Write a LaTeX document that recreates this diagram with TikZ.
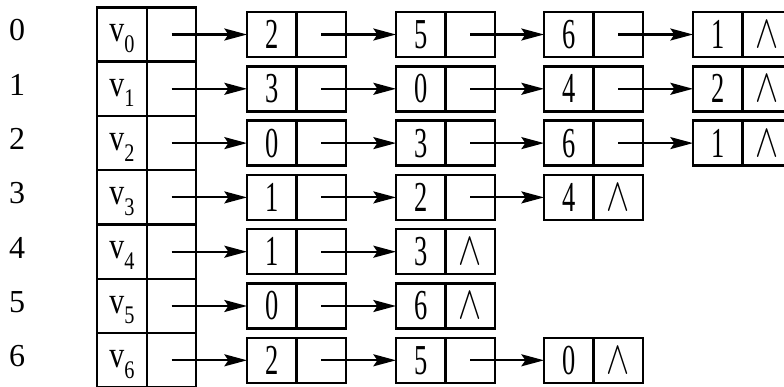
\documentclass[tikz,border=0pt]{standalone}
\usepackage{fontspec}
\setmainfont{Liberation Serif}
\usetikzlibrary{arrows.meta}
\newcommand\numtxt[1]{\scalebox{0.62}[1]{\fontsize{32}{32}\selectfont #1}}
\newcommand\vtxt[1]{\scalebox{0.8}[1]{\fontsize{28}{28}\selectfont v\raisebox{-8pt}{\fontsize{19}{19}\selectfont #1}}}
\newcommand\nil{\scalebox{2.6}[3.5]{$\wedge$}}
\newcommand\lnode[5]{\node[cell] (d#1) at (#2+24.75,#3) {\numtxt{#4}}; \node[cell] (p#1) at (#2+74.25,#3) {#5};}
\newcommand\hrow[3]{\node[head] (h#1) at (171.5,#2) {}; \node[head] (v#1) at (122,#2) {}; \node[vlab] (w#1) at (v#1.center) {\vtxt{#1}}; \node[idx] (i#1) at (17,#2-4) {#1};}
\begin{document}
\begin{tikzpicture}[x=0.75pt,y=-0.75pt,
 cell/.style={draw, line width=1.8pt, minimum width=37.1pt, minimum height=33.75pt, inner sep=0pt, outer sep=0pt},
 head/.style={draw, line width=1.8pt, minimum width=37.1pt, minimum height=40.7pt, inner sep=0pt, outer sep=0pt},
 vlab/.style={inner sep=0pt, yshift=-3pt},
 arr/.style={line width=1.6pt, -{Stealth[length=17pt,width=9pt,inset=3pt]}},
 idx/.style={font=\fontsize{24}{24}\selectfont, inner sep=0pt},
]
\useasboundingbox (0,0) rectangle (784,386);
\hrow{0}{34.5}{}
\hrow{1}{88.8}{}
\hrow{2}{143.1}{}
\hrow{3}{197.4}{}
\hrow{4}{251.7}{}
\hrow{5}{306}{}
\hrow{6}{360.3}{}
% row 0
\lnode{00}{247}{34.5}{2}{}
\lnode{01}{396}{34.5}{5}{}
\lnode{02}{544}{34.5}{6}{}
\lnode{03}{693}{34.5}{1}{\nil}
% row 1
\lnode{10}{247}{88.8}{3}{}
\lnode{11}{396}{88.8}{0}{}
\lnode{12}{544}{88.8}{4}{}
\lnode{13}{693}{88.8}{2}{\nil}
% row 2
\lnode{20}{247}{143.1}{0}{}
\lnode{21}{396}{143.1}{3}{}
\lnode{22}{544}{143.1}{6}{}
\lnode{23}{693}{143.1}{1}{\nil}
% row 3
\lnode{30}{247}{197.4}{1}{}
\lnode{31}{396}{197.4}{2}{}
\lnode{32}{544}{197.4}{4}{\nil}
% row 4
\lnode{40}{247}{251.7}{1}{}
\lnode{41}{396}{251.7}{3}{\nil}
% row 5
\lnode{50}{247}{306}{0}{}
\lnode{51}{396}{306}{6}{\nil}
% row 6
\lnode{60}{247}{360.3}{2}{}
\lnode{61}{396}{360.3}{5}{}
\lnode{62}{544}{360.3}{0}{\nil}
% arrows
\draw[arr] (h0.center) -- (d00.west);
\draw[arr] (p00.center) -- (d01.west);
\draw[arr] (p01.center) -- (d02.west);
\draw[arr] (p02.center) -- (d03.west);
\draw[arr] (h1.center) -- (d10.west);
\draw[arr] (p10.center) -- (d11.west);
\draw[arr] (p11.center) -- (d12.west);
\draw[arr] (p12.center) -- (d13.west);
\draw[arr] (h2.center) -- (d20.west);
\draw[arr] (p20.center) -- (d21.west);
\draw[arr] (p21.center) -- (d22.west);
\draw[arr] (p22.center) -- (d23.west);
\draw[arr] (h3.center) -- (d30.west);
\draw[arr] (p30.center) -- (d31.west);
\draw[arr] (p31.center) -- (d32.west);
\draw[arr] (h4.center) -- (d40.west);
\draw[arr] (p40.center) -- (d41.west);
\draw[arr] (h5.center) -- (d50.west);
\draw[arr] (p50.center) -- (d51.west);
\draw[arr] (h6.center) -- (d60.west);
\draw[arr] (p60.center) -- (d61.west);
\draw[arr] (p61.center) -- (d62.west);
\end{tikzpicture}
\end{document}
